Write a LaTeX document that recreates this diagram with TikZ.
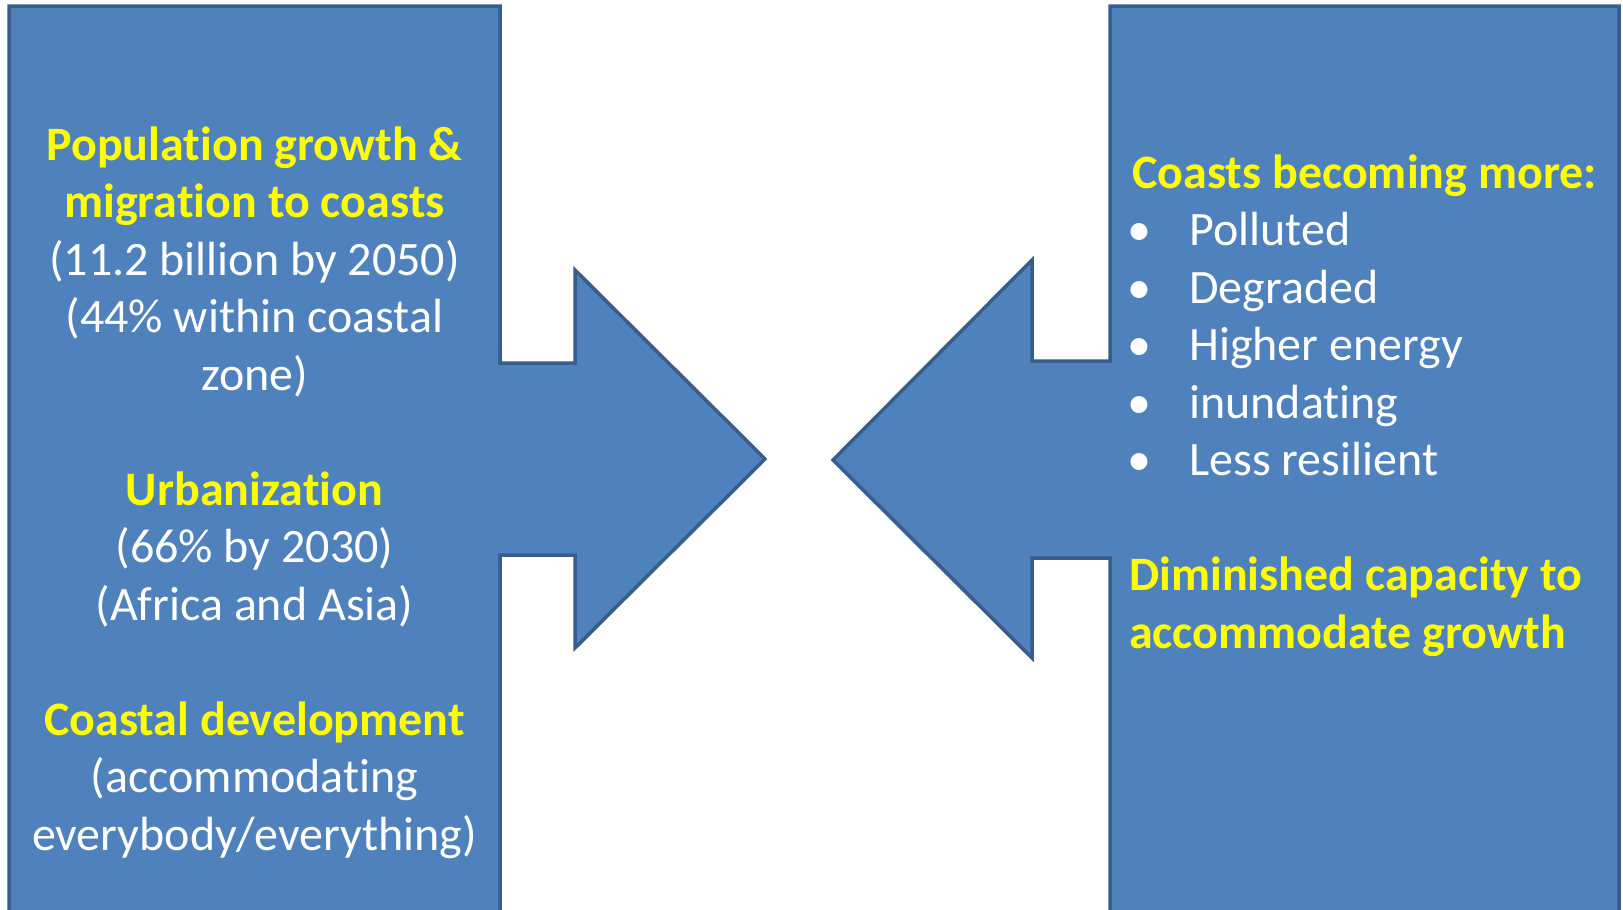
\documentclass[tikz,border=0pt]{standalone}
\usepackage{fontspec}
\setmainfont{Carlito}[Ligatures={TeX,NoCommon}]
\definecolor{boxfill}{HTML}{4F81BD}
\definecolor{boxline}{HTML}{385D8A}
\definecolor{hl}{HTML}{FFFF00}
\begin{document}
\begin{tikzpicture}[x=1pt,y=-1pt,
  shapebox/.style={fill=boxfill,draw=boxline,line width=3.5pt,line join=miter},
  hd/.style={font=\bfseries\fontsize{48}{57.5}\selectfont,text=hl,inner sep=0pt},
  bd/.style={font=\fontsize{48}{57.5}\selectfont,text=white,inner sep=0pt}]
\useasboundingbox (0,0) rectangle (1623,910);
\clip (0,0) rectangle (1623,910);
% left block with right-pointing arrow
\draw[shapebox] (9,6) -- (500,6) -- (500,363) -- (575,363) -- (575,270) -- (765,459)
  -- (575,648) -- (575,555) -- (500,555) -- (500,930) -- (9,930) -- cycle;
% right block with left-pointing arrow
\draw[shapebox] (1110,6) -- (1619,6) -- (1619,930) -- (1110,930) -- (1110,558) -- (1032,558)
  -- (1032,658) -- (833,460) -- (1032,260) -- (1032,361) -- (1110,361) -- cycle;
% left texts
\node[hd,anchor=base] (l1) at (254.5,160) {Population growth \&};
\node[hd,anchor=base] (l2) at (254.5,217.5) {migration to coasts};
\node[bd,anchor=base] (l3) at (254.5,275) {(11.2 billion by 2050)};
\node[bd,anchor=base] (l4) at (254.5,332.5) {(44\% within coastal};
\node[bd,anchor=base] (l5) at (254.5,390) {zone)};
\node[hd,anchor=base] (l6) at (254.5,505) {Urbanization};
\node[bd,anchor=base] (l7) at (254.5,562.5) {(66\% by 2030)};
\node[bd,anchor=base] (l8) at (254.5,620) {(Africa and Asia)};
\node[hd,anchor=base] (l9) at (254.5,735) {Coastal development};
\node[bd,anchor=base] (l10) at (254.5,792.5) {(accommodating};
\node[bd,anchor=base] (l11) at (254.5,850) {everybody/everything)};
% right texts
\node[hd,anchor=base west] (r1) at (1132,188) {Coasts becoming more:};
\foreach \t [count=\i] in {Polluted,Degraded,Higher energy,inundating,Less resilient}{
  \node[bd,anchor=base west] (b\i) at (1127,{188+57.5*\i}) {•};
  \node[bd,anchor=base west] (r\i t) at (1189,{188+57.5*\i}) {\t};
}
\node[hd,anchor=base west] (r7) at (1129,590.5) {Diminished capacity to};
\node[hd,anchor=base west] (r8) at (1129,648) {accommodate growth};
\end{tikzpicture}
\end{document}
